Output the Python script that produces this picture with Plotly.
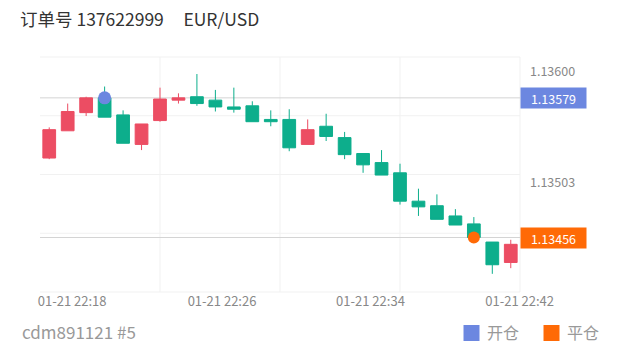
import plotly.graph_objects as go

# ---- data ----
opens  = [1.13526, 1.13550, 1.13566, 1.13579, 1.13564, 1.13538, 1.13559, 1.13577, 1.13580, 1.13577,
          1.13571, 1.13572, 1.13560, 1.13560, 1.13538, 1.13554, 1.13544, 1.13530, 1.13522, 1.13513,
          1.13488, 1.13484, 1.13475, 1.13468, 1.13452, 1.13434]
highs  = [1.13553, 1.13574, 1.13580, 1.13589, 1.13568, 1.13556, 1.13588, 1.13583, 1.13600, 1.13586,
          1.13588, 1.13576, 1.13568, 1.13569, 1.13560, 1.13565, 1.13549, 1.13530, 1.13533, 1.13521,
          1.13499, 1.13494, 1.13481, 1.13474, 1.13452, 1.13454]
lows   = [1.13525, 1.13550, 1.13563, 1.13562, 1.13539, 1.13533, 1.13558, 1.13574, 1.13572, 1.13567,
          1.13566, 1.13558, 1.13554, 1.13532, 1.13538, 1.13541, 1.13525, 1.13513, 1.13511, 1.13485,
          1.13475, 1.13472, 1.13467, 1.13456, 1.13424, 1.13429]
closes = [1.13551, 1.13567, 1.13579, 1.13562, 1.13539, 1.13556, 1.13578, 1.13579, 1.13574, 1.13571,
          1.13569, 1.13558, 1.13558, 1.13535, 1.13551, 1.13545, 1.13529, 1.13520, 1.13511, 1.13488,
          1.13483, 1.13472, 1.13467, 1.13456, 1.13432, 1.13450]
candle_idx = list(range(len(opens)))

x_tick_pos = [1.24, 9.36, 17.4, 25.48]
x_tick_labels = ["01-21 22:18", "01-21 22:26", "01-21 22:34", "01-21 22:42"]
y_tick_vals = [1.13600, 1.13503]
y_tick_labels = ["1.13600", "1.13503"]

open_idx, open_price = 3, 1.13579
close_idx, close_price = 23, 1.13456

title_text = "订单号 137622999\u00a0\u00a0\u00a0\u00a0\u00a0EUR/USD"
footer_text = "cdm891121 #5"
legend_names = ["开仓", "平仓"]

RED = "#EC4D63"
GREEN = "#0DAE8C"
BLUE = "#6C87E0"
ORANGE = "#FF6A06"
FONT = "Noto Sans CJK SC"

fig = go.Figure()
fig.add_trace(go.Candlestick(
    x=candle_idx, open=opens, high=highs, low=lows, close=closes,
    increasing=dict(line=dict(color=RED, width=1), fillcolor=RED),
    decreasing=dict(line=dict(color=GREEN, width=1), fillcolor=GREEN),
    whiskerwidth=0, showlegend=False, hoverinfo="skip",
))
fig.add_trace(go.Scatter(x=[open_idx], y=[open_price], mode="markers",
                         marker=dict(color=BLUE, size=13), showlegend=False, hoverinfo="skip"))
fig.add_trace(go.Scatter(x=[close_idx], y=[close_price], mode="markers",
                         marker=dict(color=ORANGE, size=12), showlegend=False, hoverinfo="skip"))

shapes = []
# grid
for f in [0, 0.25, 0.5, 0.75, 1]:
    shapes.append(dict(type="line", xref="x domain", yref="y domain", x0=0, x1=1, y0=f, y1=f,
                       line=dict(color="#F1F1F1", width=1), layer="below"))
for f in [0.25, 0.5, 0.75, 1]:
    shapes.append(dict(type="line", xref="x domain", yref="y domain", x0=f, x1=f, y0=0, y1=1,
                       line=dict(color="#F1F1F1", width=1), layer="below"))
# price lines
for p in [open_price, close_price]:
    shapes.append(dict(type="line", xref="x domain", yref="y", x0=0, x1=1, y0=p, y1=p,
                       line=dict(color="#D4D4D4", width=1), layer="below"))
# legend squares
for px, col in [(471.5, BLUE), (551.5, ORANGE)]:
    shapes.append(dict(type="rect", xref="paper", yref="paper", xsizemode="pixel", ysizemode="pixel",
                       xanchor=(px - 40) / 480, yanchor=(292 - 333) / 235,
                       x0=-8, x1=8, y0=-8, y1=8, fillcolor=col, line=dict(width=0)))

annotations = []
for p, col in [(open_price, BLUE), (close_price, ORANGE)]:
    annotations.append(dict(xref="x domain", yref="y", x=1, y=p, xanchor="left", yanchor="middle",
                            text=f"{p:.5f}", showarrow=False, bgcolor=col, width=59, height=14,
                            borderpad=3, font=dict(color="white", size=12.5, family=FONT)))
annotations.append(dict(xref="paper", yref="paper", x=(20 - 40) / 480, y=(292 - 331) / 235,
                        xanchor="left", yanchor="middle", text=footer_text, showarrow=False,
                        font=dict(color="#999999", size=17, family=FONT)))
for px, name in [(485, legend_names[0]), (565, legend_names[1])]:
    annotations.append(dict(xref="paper", yref="paper", x=(px - 40) / 480, y=(292 - 332) / 235,
                            xanchor="left", yanchor="middle", text=name, showarrow=False,
                            font=dict(color="#999999", size=16, family=FONT)))

fig.update_layout(
    width=620, height=352, margin=dict(l=40, r=100, t=57, b=60),
    paper_bgcolor="white", plot_bgcolor="white",
    font=dict(family=FONT, color="#888888"),
    boxgap=0.31, boxgroupgap=0,
    title=dict(text=title_text, x=20 / 620, xanchor="left", y=1 - 20 / 352, yanchor="middle",
               font=dict(size=17.5, color="#333333", family=FONT)),
    xaxis=dict(range=[-0.5, 25.5], rangeslider=dict(visible=False), showgrid=False, zeroline=False,
               showline=False, tickvals=x_tick_pos, ticktext=x_tick_labels, ticks="",
               tickfont=dict(size=13, color="#888888")),
    yaxis=dict(side="right", range=[1.13408, 1.13615], showgrid=False, zeroline=False, showline=False,
               tickvals=y_tick_vals, ticktext=y_tick_labels, ticks="", ticklabelstandoff=9,
               ticklabelshift=-2,
               tickfont=dict(size=12.5, color="#888888")),
    shapes=shapes, annotations=annotations, showlegend=False,
)

fig.write_html("out.html")
